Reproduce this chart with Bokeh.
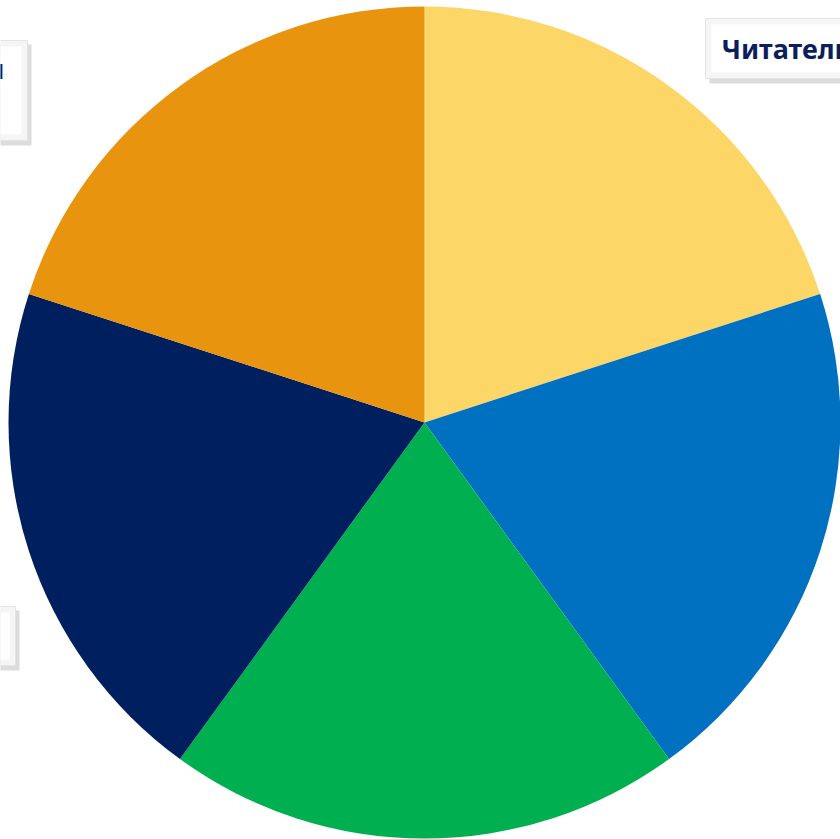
import numpy as np
from bokeh.plotting import figure
from bokeh.models import Range1d, ColumnDataSource
from bokeh.core.properties import value
from bokeh.embed import file_html
from bokeh.resources import INLINE

# data
categories = ["Читатели", "Библиотекари", "Авторы", "Родители", "Учителя"]
values = [20, 20, 20, 20, 20]
colors = ["#FCD767", "#0070C0", "#00AF50", "#001F5F", "#E8940E"]

W, H = 840, 839
p = figure(width=W, height=H, output_backend="svg", toolbar_location=None,
           x_range=Range1d(0, W), y_range=Range1d(0, H), min_border=0)
p.axis.visible = False
p.grid.visible = False
p.outline_line_color = None
p.background_fill_color = "white"
p.border_fill_color = "white"

cx, cy, r = 424, H - 422, 416
vals = np.array(values, dtype=float)
frac = vals / vals.sum()
cum = np.concatenate([[0], np.cumsum(frac)])
start = np.pi / 2 - cum[:-1] * 2 * np.pi
end = np.pi / 2 - cum[1:] * 2 * np.pi
src = ColumnDataSource(dict(start=start, end=end, color=colors, cat=categories))
p.wedge(x=cx, y=cy, radius=r, start_angle="start", end_angle="end",
        direction="clock", fill_color="color", line_color=None, source=src)

# label boxes (pixel top-left coordinates -> data)
def box(x0, y0, x1, y1):
    p.quad(left=x0 + 4, right=x1 + 4, top=H - (y0 + 4), bottom=H - (y1 + 5),
           fill_color="#c4c4c4", fill_alpha=0.6, line_color=None)
    p.quad(left=x0, right=x1, top=H - y0, bottom=H - y1,
           fill_color="#f5f5f5", line_color="#e4e4e4", line_width=1)
    p.quad(left=x0 + 6, right=x1 - 6, top=H - (y0 + 6), bottom=H - (y1 - 6),
           fill_color="white", line_color=None)

box(705, 18, 900, 78)
box(-200, 40, 27, 140)
box(-200, 606, 15, 665)

p.text(x=[721], y=[H - 48], text=[categories[0]], text_font=value("Noto Sans"),
       text_font_style="bold", text_font_size="27px", text_color="#0B1F5C",
       text_baseline="middle", text_align="left")
p.text(x=[4], y=[H - 68], text=[categories[3]], text_font=value("Noto Sans"),
       text_font_style="bold", text_font_size="27px", text_color="#0B1F5C",
       text_baseline="middle", text_align="right")

open("out.html", "w").write(file_html(p, INLINE))
